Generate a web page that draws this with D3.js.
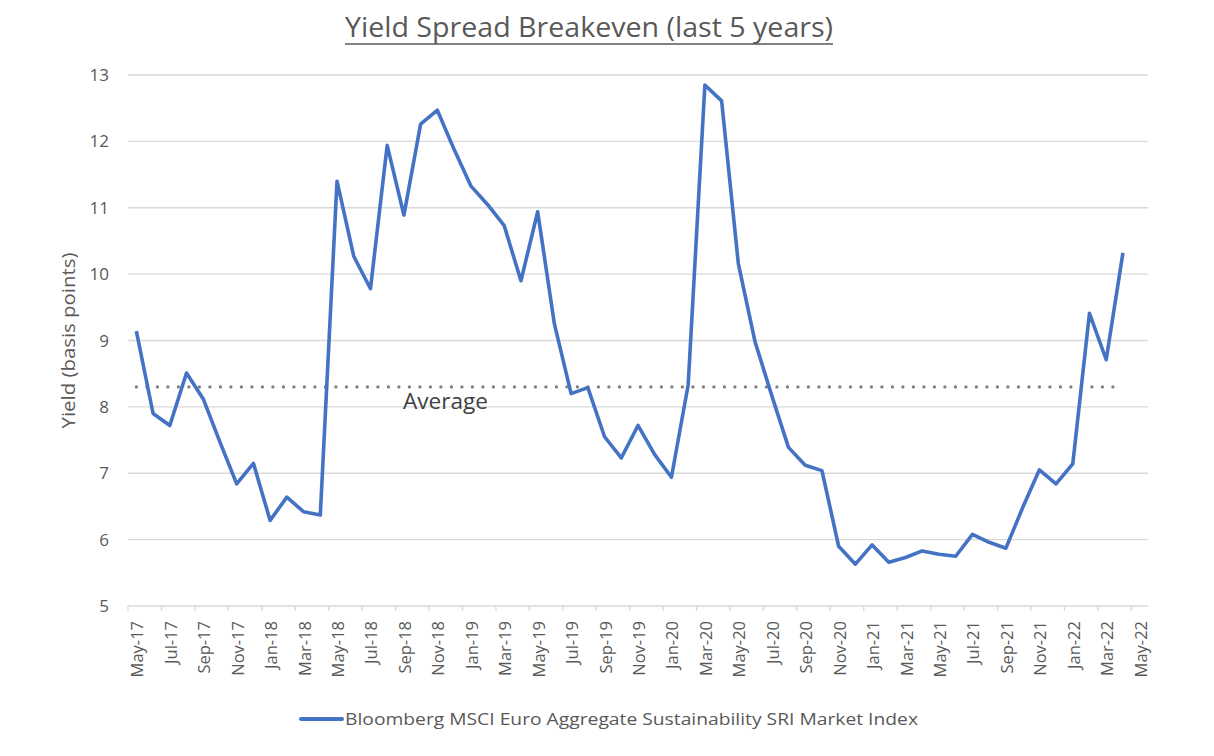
<!DOCTYPE html>
<html>
<head>
<meta charset="utf-8">
<script src="https://cdn.jsdelivr.net/npm/d3@7"></script>
<style>
  body { margin: 0; background: #fff; }
  text { font-family: "Open Sans", sans-serif; }
</style>
</head>
<body>
<svg id="chart" width="1214" height="756"></svg>
<script>
// Monthly categories, May-17 to May-22 (last one has no value).
var months = ["May-17","Jun-17","Jul-17","Aug-17","Sep-17","Oct-17","Nov-17","Dec-17",
  "Jan-18","Feb-18","Mar-18","Apr-18","May-18","Jun-18","Jul-18","Aug-18","Sep-18","Oct-18","Nov-18","Dec-18",
  "Jan-19","Feb-19","Mar-19","Apr-19","May-19","Jun-19","Jul-19","Aug-19","Sep-19","Oct-19","Nov-19","Dec-19",
  "Jan-20","Feb-20","Mar-20","Apr-20","May-20","Jun-20","Jul-20","Aug-20","Sep-20","Oct-20","Nov-20","Dec-20",
  "Jan-21","Feb-21","Mar-21","Apr-21","May-21","Jun-21","Jul-21","Aug-21","Sep-21","Oct-21","Nov-21","Dec-21",
  "Jan-22","Feb-22","Mar-22","Apr-22","May-22"];

// Yield values (basis points).
var yieldValues = [9.14, 7.90, 7.72, 8.51, 8.12, 7.47, 6.84, 7.15,
  6.29, 6.64, 6.42, 6.37, 11.40, 10.27, 9.78, 11.94, 10.89, 12.26, 12.47, 11.88,
  11.33, 11.05, 10.73, 9.90, 10.94, 9.25, 8.20, 8.29, 7.55, 7.23, 7.72, 7.28,
  6.94, 8.33, 12.85, 12.61, 10.16, 8.98, 8.17, 7.39, 7.12, 7.04, 5.90, 5.63,
  5.92, 5.66, 5.73, 5.83, 5.78, 5.75, 6.08, 5.96, 5.87, 6.48, 7.05, 6.84,
  7.14, 9.41, 8.71, 10.32];

var averageValue = 8.30;
var yTicks = [5, 6, 7, 8, 9, 10, 11, 12, 13];
var titleText = "Yield Spread Breakeven (last 5 years)";
var legendText = "Bloomberg MSCI Euro Aggregate Sustainability SRI Market Index";

var svg = d3.select("#chart");
var plotLeft = 128, plotRight = 1148, plotTop = 75, plotBottom = 606;

var x = d3.scaleBand().domain(months).range([plotLeft, plotRight]).paddingInner(0).paddingOuter(0);
var y = d3.scaleLinear().domain([5, 13]).range([plotBottom, plotTop]);
var cx = function (m) { return x(m) + x.bandwidth() / 2; };

// Title, underlined
svg.append("text")
  .attr("x", 345).attr("y", 37)
  .attr("font-size", 27)
  .attr("fill", "#595959")
  .attr("textLength", 488)
  .attr("lengthAdjust", "spacingAndGlyphs")
  .text(titleText);
svg.append("line")
  .attr("x1", 345).attr("x2", 833)
  .attr("y1", 44).attr("y2", 44)
  .attr("stroke", "#595959").attr("stroke-width", 1.5);

// Gridlines
svg.append("g").selectAll("line")
  .data(yTicks.filter(function (d) { return d > 5; }))
  .join("line")
  .attr("x1", plotLeft).attr("x2", plotRight)
  .attr("y1", function (d) { return y(d); })
  .attr("y2", function (d) { return y(d); })
  .attr("stroke", "#d9d9d9").attr("stroke-width", 1.3);

// Y tick labels
svg.append("g").selectAll("text")
  .data(yTicks)
  .join("text")
  .attr("x", 109)
  .attr("y", function (d) { return y(d) + 6; })
  .attr("text-anchor", "end")
  .attr("font-size", 17)
  .attr("fill", "#595959")
  .text(function (d) { return d; });

// Y axis title
svg.append("text")
  .attr("transform", "translate(75," + ((plotTop + plotBottom) / 2) + ") rotate(-90)")
  .attr("text-anchor", "middle")
  .attr("font-size", 18)
  .attr("fill", "#595959")
  .attr("textLength", 176)
  .attr("lengthAdjust", "spacingAndGlyphs")
  .text("Yield (basis points)");

// X axis line and ticks (every two categories)
var labelMonths = months.filter(function (d, i) { return i % 2 === 0; });
var gx = svg.append("g").attr("transform", "translate(0," + plotBottom + ")");
gx.append("line").attr("x1", plotLeft).attr("x2", plotRight)
  .attr("stroke", "#d9d9d9").attr("stroke-width", 1.3);
gx.selectAll("line.tick")
  .data(labelMonths)
  .join("line")
  .attr("class", "tick")
  .attr("x1", function (d) { return x(d); })
  .attr("x2", function (d) { return x(d); })
  .attr("y1", 0).attr("y2", 5)
  .attr("stroke", "#d9d9d9").attr("stroke-width", 1.3);
gx.selectAll("text")
  .data(labelMonths)
  .join("text")
  .attr("transform", function (d) { return "translate(" + (cx(d) + 7) + ",15) rotate(-90)"; })
  .attr("text-anchor", "end")
  .attr("font-size", 16.5)
  .attr("fill", "#595959")
  .text(function (d) { return d; });

// Average dotted line
var dataMonths = months.slice(0, yieldValues.length);
svg.append("line")
  .attr("x1", cx(dataMonths[0]))
  .attr("x2", cx(dataMonths[dataMonths.length - 1]))
  .attr("y1", y(averageValue)).attr("y2", y(averageValue))
  .attr("stroke", "#7f7f7f").attr("stroke-width", 3.2)
  .attr("stroke-linecap", "round")
  .attr("stroke-dasharray", "0.1,10.4");
svg.append("text")
  .attr("x", 403).attr("y", y(averageValue) + 22)
  .attr("font-size", 21)
  .attr("fill", "#404040")
  .attr("textLength", 85)
  .attr("lengthAdjust", "spacingAndGlyphs")
  .text("Average");

// Series line
var line = d3.line()
  .x(function (d, i) { return cx(dataMonths[i]); })
  .y(function (d) { return y(d); });
svg.append("path")
  .datum(yieldValues)
  .attr("d", line)
  .attr("fill", "none")
  .attr("stroke", "#4472c4")
  .attr("stroke-width", 3.6)
  .attr("stroke-linejoin", "round");

// Legend
svg.append("line")
  .attr("x1", 301).attr("x2", 342)
  .attr("y1", 719).attr("y2", 719)
  .attr("stroke", "#4472c4").attr("stroke-width", 4)
  .attr("stroke-linecap", "round");
svg.append("text")
  .attr("x", 345).attr("y", 725)
  .attr("font-size", 17)
  .attr("fill", "#595959")
  .attr("textLength", 573)
  .attr("lengthAdjust", "spacingAndGlyphs")
  .text(legendText);
</script>
</body>
</html>
